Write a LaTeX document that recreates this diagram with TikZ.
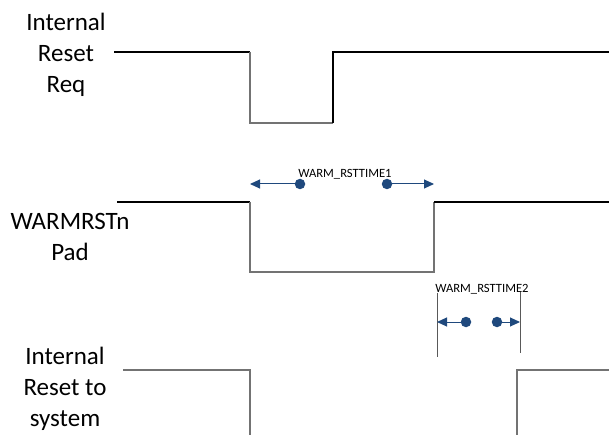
\documentclass[tikz,border=0pt]{standalone}
\usepackage{fontspec}
\setmainfont{Carlito}
\usepackage{tikz}
\usetikzlibrary{arrows.meta}
\definecolor{arrowblue}{RGB}{31,73,125}

\tikzset{
  sig/.style={line width=1.1pt, black},
  siglow/.style={line width=1.1pt, black!55},
  marker/.style={line width=1pt, black!65},
  span/.style={arrowblue, line width=1pt, -{Triangle[length=10pt,width=9pt]}},
  dot/.style={circle, fill=arrowblue, inner sep=0pt, minimum size=10.5pt},
  siglabel/.style={align=center, font=\fontsize{25}{31}\selectfont},
  timelabel/.style={font=\fontsize{12.6}{14}\selectfont, inner sep=0pt}
}

\begin{document}
\begin{tikzpicture}[x=1pt, y=-1pt]
    \useasboundingbox (0,0) rectangle (609,435);

    % Signal names
    \node[siglabel] (reqname) at (66,55) {Internal\\Reset\\Req};
    \node[siglabel] (padname) at (70,237) {WARMRSTn\\Pad};
    \node[siglabel] (sysname) at (65,389) {Internal\\Reset to\\system};

    % Internal Reset Req
    \draw[sig] (114,52) -- (250,52);
    \draw[siglow] (250,52) -- (250,123) -- (333,123);
    \draw[sig] (333,123) -- (333,52) -- (609,52);

    % WARMRSTn Pad
    \draw[sig] (117,202) -- (250,202);
    \draw[siglow] (250,202) -- (250,272) -- (434,272) -- (434,202);
    \draw[sig] (434,202) -- (609,202);

    % Internal Reset to system
    \draw[siglow] (123,370) -- (250,370) -- (250,436);
    \draw[siglow] (517,436) -- (517,370) -- (609,370);

    % WARM_RSTTIME1
    \node[dot] (t1a) at (300,184) {};
    \node[dot] (t1b) at (387,184) {};
    \coordinate (t1l) at (250,184);
    \coordinate (t1r) at (434,184);
    \draw[span] (t1a) -- (t1l);
    \draw[span] (t1b) -- (t1r);
    \node[timelabel] (t1) at (345,174) {WARM\_RSTTIME1};

    % WARM_RSTTIME2
    \coordinate (m1top) at (437,293);
    \coordinate (m1bot) at (437,357);
    \coordinate (m2top) at (520,292);
    \coordinate (m2bot) at (520,353);
    \draw[marker] (m1top) -- (m1bot);
    \draw[marker] (m2top) -- (m2bot);
    \node[dot] (t2a) at (466,322) {};
    \node[dot] (t2b) at (497,322) {};
    \coordinate (t2l) at (437,322);
    \coordinate (t2r) at (520,322);
    \draw[span] (t2a) -- (t2l);
    \draw[span] (t2b) -- (t2r);
    \node[timelabel] (t2) at (482,289) {WARM\_RSTTIME2};
\end{tikzpicture}
\end{document}
